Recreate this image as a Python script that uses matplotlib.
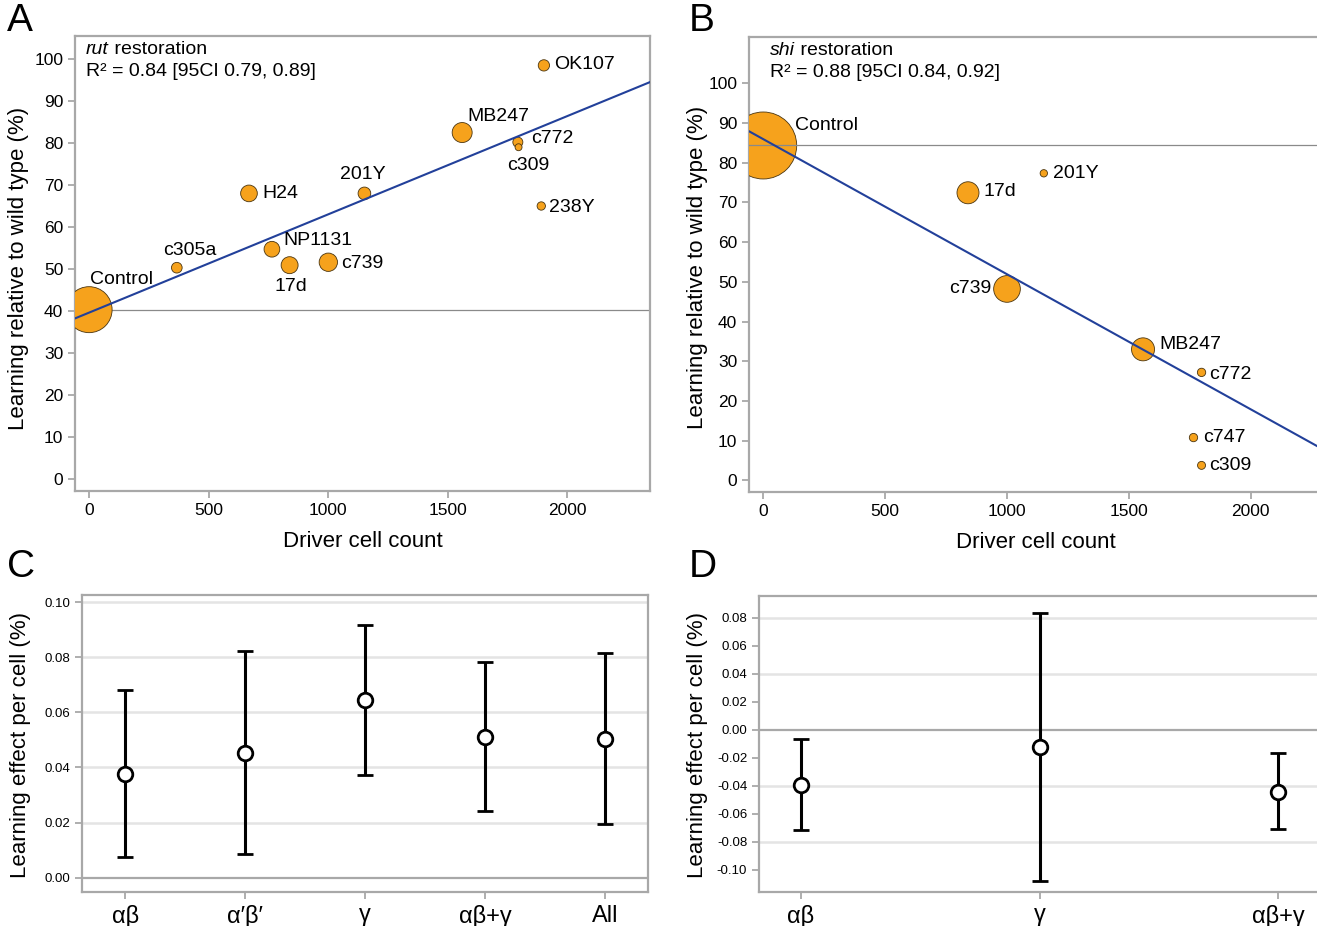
import numpy as np
import matplotlib
matplotlib.use("Agg")
import matplotlib.pyplot as plt

plt.rcParams['font.family'] = ['Liberation Sans', 'DejaVu Sans']
plt.rcParams['axes.unicode_minus'] = False

# ---- data ----
# A: rut restoration
a_names = ["Control", "c305a", "H24", "NP1131", "17d", "c739", "201Y",
           "MB247", "c772", "c309", "OK107", "238Y"]
a_cells = [0, 367, 669, 765, 839, 1001, 1152, 1561, 1794, 1797, 1903, 1892]
a_learn = [40.3, 50.3, 68.0, 54.7, 50.9, 51.6, 68.0, 82.5, 80.2, 79.0, 98.5, 65.0]
a_weight = [1096, 59, 144, 128, 149, 174, 83, 207, 52, 25, 66, 36]
a_fit = (39.6, 0.0234)      # intercept, slope
a_baseline = 40.3

# B: shi restoration
b_names = ["Control", "201Y", "17d", "c739", "MB247", "c772", "c747", "c309"]
b_cells = [0, 1151, 840, 1000, 1558, 1798, 1765, 1798]
b_learn = [84.3, 77.3, 72.4, 48.2, 33.0, 27.2, 10.8, 3.8]
b_weight = [2325, 28, 251, 369, 274, 36, 36, 33]
b_fit = (85.9, -0.0340)
b_baseline = 84.3

# C: per-cell effect, rut
c_groups = ["αβ", "α′β′", "γ", "αβ+γ", "All"]
c_mean = [0.0378, 0.0453, 0.0645, 0.0509, 0.0503]
c_lo = [0.0075, 0.0084, 0.0372, 0.0241, 0.0193]
c_hi = [0.0681, 0.0824, 0.0916, 0.0783, 0.0815]

# D: per-cell effect, shi
d_groups = ["αβ", "γ", "αβ+γ"]
d_mean = [-0.0392, -0.0126, -0.0442]
d_lo = [-0.0717, -0.108, -0.0707]
d_hi = [-0.0064, 0.0831, -0.0166]

# label offsets in pixels (dx, dy, ha)
a_lab = {"Control": (1, 30, "left"), "c305a": (13, 17, "center"),
         "H24": (13, 0, "left"), "NP1131": (11, 9, "left"),
         "17d": (1, -21, "center"), "c739": (13, -1, "left"),
         "201Y": (-2, 19, "center"), "MB247": (5, 16, "left"),
         "c772": (13, 4, "left"), "c309": (10, -18, "center"),
         "OK107": (10, 1, "left"), "238Y": (8, -2, "left")}
b_lab = {"Control": (32, 20, "left"), "201Y": (9, 0, "left"),
         "17d": (16, 1, "left"), "c739": (-16, 0, "right"),
         "MB247": (16, 5, "left"), "c772": (8, -2, "left"),
         "c747": (10, 0, "left"), "c309": (8, 0, "left")}

ORANGE = "#F6A21C"
BLUE = "#22409A"
GRAY = "#a8a8a8"
FS = 14

W, H = 1317, 926
fig = plt.figure(figsize=(W / 100, H / 100), dpi=100)


def place(l, t, r, b):
    return fig.add_axes([l / W, 1 - b / H, (r - l) / W, (b - t) / H])


def style(ax):
    for s in ax.spines.values():
        s.set_color(GRAY)
        s.set_linewidth(1.6)
    ax.tick_params(colors=GRAY, labelcolor="black", length=5, width=1.3)


def scatter_panel(ax, names, cells, learn, weight, fit, base, labels, xlim, ylim,
                  base_on_top):
    style(ax)
    ax.set_xlim(*xlim)
    ax.set_ylim(*ylim)
    ax.axhline(base, color="#8a8a8a", lw=0.9, zorder=4 if base_on_top else 1)
    ax.scatter(cells, learn, s=weight, c=ORANGE, edgecolors="#4a3510",
               linewidths=0.6, zorder=3)
    xs = np.array(xlim)
    ax.plot(xs, fit[0] + fit[1] * xs, color=BLUE, lw=1.5, zorder=5)
    for n, x, y in zip(names, cells, learn):
        dx, dy, ha = labels[n]
        ax.annotate(n, (x, y), xytext=(dx, dy), textcoords="offset pixels",
                    ha=ha, va="center", fontsize=FS, zorder=6)
    ax.set_xticks([0, 500, 1000, 1500, 2000])
    ax.set_yticks(range(0, 101, 10))
    ax.tick_params(labelsize=12.5)
    ax.set_xlabel("Driver cell count", fontsize=16, va="center")
    ax.set_ylabel("Learning relative to wild type (%)", fontsize=16, va="center")


# ---- A ----
axA = place(75, 36, 650, 491)
scatter_panel(axA, a_names, a_cells, a_learn, a_weight, a_fit, a_baseline, a_lab,
              (-59, 2347), (-2.9, 105.5), False)
axA.xaxis.set_label_coords(0.501, -0.112)
axA.yaxis.set_label_coords(-0.099, 0.49)
t = axA.text(0.019, 0.971, "rut", style="italic", fontsize=FS,
             transform=axA.transAxes, va="center")
axA.annotate(" restoration", xy=(1, 0.5), xycoords=t, va="center", fontsize=FS)
axA.text(0.019, 0.9215, "R² = 0.84 [95CI 0.79, 0.89]", fontsize=FS,
         transform=axA.transAxes, va="center")

# ---- B ----
axB = place(749, 37, 1317, 492)
scatter_panel(axB, b_names, b_cells, b_learn, b_weight, b_fit, b_baseline, b_lab,
              (-58.3, 2271.6), (-2.9, 111.6), True)
axB.spines["right"].set_visible(False)
axB.xaxis.set_label_coords(0.505, -0.1105)
axB.yaxis.set_label_coords(-0.0915, 0.494)
t = axB.text(0.0373, 0.971, "shi", style="italic", fontsize=FS,
             transform=axB.transAxes, va="center")
axB.annotate(" restoration", xy=(1, 0.5), xycoords=t, va="center", fontsize=FS)
axB.text(0.0373, 0.9215, "R² = 0.88 [95CI 0.84, 0.92]", fontsize=FS,
         transform=axB.transAxes, va="center")


def effect_panel(ax, groups, mean, lo, hi, yticks, grid, xlim, ylim):
    style(ax)
    ax.set_xlim(*xlim)
    ax.set_ylim(*ylim)
    for g in grid:
        ax.axhline(g, color="#e4e4e4", lw=1.8, zorder=0)
    ax.axhline(0, color=GRAY, lw=1.6, zorder=1)
    x = np.arange(len(groups))
    m = np.array(mean)
    err = [m - np.array(lo), np.array(hi) - m]
    ax.errorbar(x, m, yerr=err, fmt="o", color="black", ecolor="black",
                elinewidth=2.2, capsize=6, capthick=2.2, mfc="white",
                mec="black", mew=2.0, ms=10.5, zorder=3)
    ax.set_xticks(x)
    ax.set_xticklabels(groups, fontsize=17)
    ax.set_yticks(yticks)
    ax.set_yticklabels([f"{v:.2f}" for v in yticks], fontsize=9.5)
    ax.tick_params(axis="x", pad=4)
    ax.set_ylabel("Learning effect per cell (%)", fontsize=16, va="center")


# ---- C ----
axC = place(82, 595, 648, 892)
c_ticks = np.round(np.arange(0, 0.101, 0.02), 2)
effect_panel(axC, c_groups, c_mean, c_lo, c_hi, c_ticks, c_ticks[1:],
             (-0.36, 4.355), (-0.00524, 0.10266))
axC.yaxis.set_label_coords(-0.1095, 0.494)

# ---- D ----
axD = place(759, 596, 1317, 892)
d_ticks = np.round(np.arange(-0.10, 0.081, 0.02), 2)
effect_panel(axD, d_groups, d_mean, d_lo, d_hi, d_ticks,
             [0.08, 0.04, -0.04, -0.08], (-0.175, 2.162), (-0.1159, 0.0955))
axD.spines["right"].set_visible(False)
axD.yaxis.set_label_coords(-0.111, 0.497)

# panel letters
for letter, x, y in [("A", 7, 21), ("B", 689, 21), ("C", 7, 567), ("D", 689, 567)]:
    fig.text(x / W, 1 - y / H, letter, fontsize=28, va="center", ha="left")

fig.savefig("out.png", dpi=100)
